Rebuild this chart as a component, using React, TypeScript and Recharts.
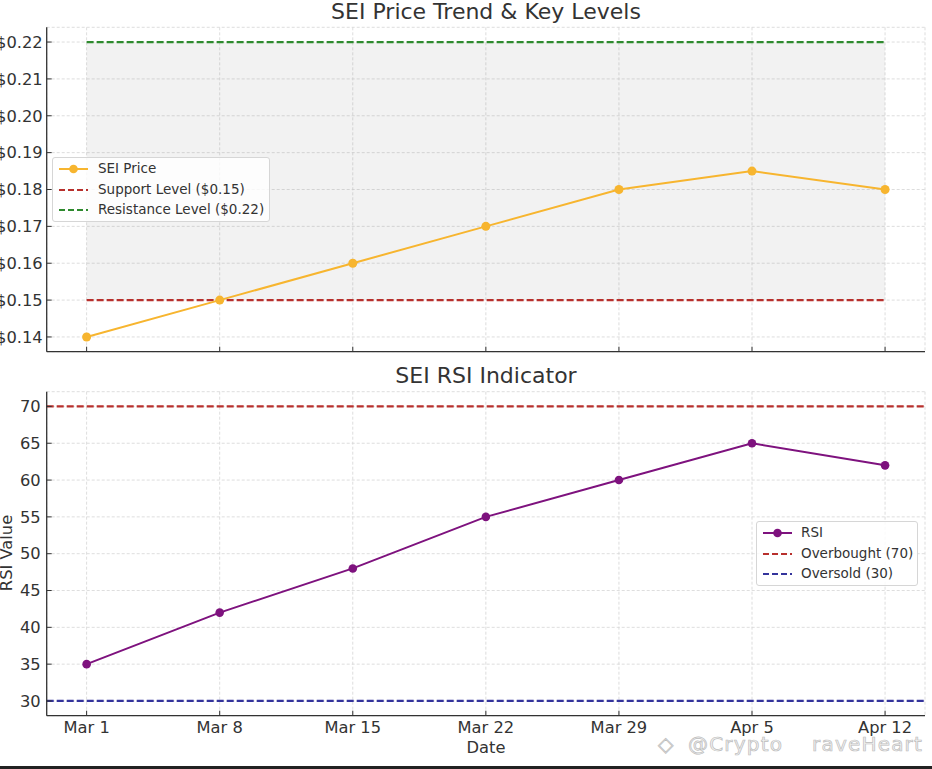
import React from 'react';
import { ComposedChart, Line, Area, XAxis, YAxis, CartesianGrid, ReferenceLine } from 'recharts';

const DATE_LABELS = ['Mar 1', 'Mar 8', 'Mar 15', 'Mar 22', 'Mar 29', 'Apr 5', 'Apr 12'];
const PRICE = [0.14, 0.15, 0.16, 0.17, 0.18, 0.185, 0.18];
const RSI = [35, 42, 48, 55, 60, 65, 62];
const SUPPORT = 0.15;
const RESISTANCE = 0.22;
const OVERBOUGHT = 70;
const OVERSOLD = 30;
const PRICE_TICKS = [0.14, 0.15, 0.16, 0.17, 0.18, 0.19, 0.2, 0.21, 0.22];
const RSI_TICKS = [30, 35, 40, 45, 50, 55, 60, 65, 70];
const X_TICKS = [0, 1, 2, 3, 4, 5, 6];

const FONT = "'DejaVu Sans', sans-serif";
const TEXT = '#333333';
const C_PRICE = '#f7b52f';
const C_SUPPORT = '#b8302d';
const C_RESIST = '#2e8a2e';
const C_RSI = '#7e127e';
const C_OVERSOLD = '#34349c';

const priceData = DATE_LABELS.map((d, i) => ({
  i,
  date: d,
  price: PRICE[i],
  support: SUPPORT,
  resistance: RESISTANCE,
  band: [SUPPORT, RESISTANCE],
}));
const rsiData = DATE_LABELS.map((d, i) => ({ i, date: d, rsi: RSI[i] }));

const tickStyle = { fill: TEXT, fontSize: 16.3, fontFamily: FONT };
const axisLineStyle = { stroke: '#333333', strokeWidth: 1.3 };
const tickLineStyle = { stroke: '#333333', strokeWidth: 1 };

type LegendItem = { label: string; color: string; marker: boolean };

function LegendBox({ items, left, top, width, height, textLeft, markLeft }: { items: LegendItem[]; left: number; top: number; width: number; height: number; textLeft: number; markLeft: number }) {
  return (
    <div
      style={{
        position: 'absolute',
        left,
        top,
        width,
        height,
        boxSizing: 'border-box',
        border: '1px solid #d6d6d6',
        borderRadius: 3,
        background: 'rgba(255,255,255,0.82)',
        fontFamily: FONT,
        fontSize: 13.5,
        color: TEXT,
        paddingTop: 0,
      }}
    >
      {items.map((it, k) => (
        <div key={k} style={{ position: 'relative', height: 20.5, lineHeight: '20.5px' }}>
          <svg width={30} height={20} style={{ position: 'absolute', left: markLeft, top: 1 }}>
            <line
              x1={0}
              x2={29}
              y1={10}
              y2={10}
              stroke={it.color}
              strokeWidth={it.marker ? 2 : 2.2}
              strokeDasharray={it.marker ? undefined : '6 3'}
            />
            {it.marker && <circle cx={14.5} cy={10} r={4.3} fill={it.color} />}
          </svg>
          <span style={{ position: 'absolute', left: textLeft, top: 0, whiteSpace: 'nowrap' }}>{it.label}</span>
        </div>
      ))}
    </div>
  );
}

const PRICE_LEGEND: LegendItem[] = [
  { label: 'SEI Price', color: C_PRICE, marker: true },
  { label: 'Support Level ($0.15)', color: C_SUPPORT, marker: false },
  { label: 'Resistance Level ($0.22)', color: C_RESIST, marker: false },
];
const RSI_LEGEND: LegendItem[] = [
  { label: 'RSI', color: C_RSI, marker: true },
  { label: 'Overbought (70)', color: C_SUPPORT, marker: false },
  { label: 'Oversold (30)', color: C_OVERSOLD, marker: false },
];

const watermarkStyle = {
  position: 'absolute' as const,
  top: 737,
  fontSize: 20,
  letterSpacing: '1.2px',
  lineHeight: '14px',
  color: '#f2f2f2',
  WebkitTextStroke: '0.7px #bcbcbc',
  whiteSpace: 'nowrap' as const,
};

export default function App() {
  return (
    <div
      style={{
        position: 'absolute',
        left: 0,
        top: 0,
        width: 932,
        height: 769,
        background: '#ffffff',
        overflow: 'hidden',
        fontFamily: FONT,
      }}
    >
      <div
        style={{
          position: 'absolute',
          left: 0,
          top: 0.5,
          width: 972,
          textAlign: 'center',
          fontSize: 22,
          lineHeight: '22px',
          color: TEXT,
        }}
      >
        SEI Price Trend &amp; Key Levels
      </div>

      <div style={{ position: 'absolute', left: 0, top: 0 }}>
        <ComposedChart width={932} height={370} data={priceData} margin={{ top: 27.3, right: 7, bottom: 8.3, left: 0 }}>
          <CartesianGrid stroke="#d4d4d4" strokeDasharray="3 2" strokeWidth={0.8} />
          <XAxis
            dataKey="i"
            type="number"
            domain={[-0.3, 6.3]}
            ticks={X_TICKS}
            allowDataOverflow
            height={10}
            tickSize={-5}
            tickMargin={10}
            tickFormatter={() => ''}
            axisLine={axisLineStyle}
            tickLine={tickLineStyle}
            tick={tickStyle}
          />
          <YAxis
            type="number"
            domain={[0.136, 0.224]}
            ticks={PRICE_TICKS}
            allowDataOverflow
            width={46.7}
            tickSize={-5}
            tickMargin={9}
            tickFormatter={(v: number) => `$${v.toFixed(2)}`}
            axisLine={axisLineStyle}
            tickLine={tickLineStyle}
            tick={tickStyle}
          />
          <Area
            dataKey="band"
            type="linear"
            fill="#808080"
            fillOpacity={0.1}
            stroke="none"
            isAnimationActive={false}
            activeDot={false}
          />
          <Line dataKey="support" type="linear" stroke={C_SUPPORT} strokeWidth={2.2} strokeDasharray="7 3" dot={false} activeDot={false} isAnimationActive={false} />
          <Line dataKey="resistance" type="linear" stroke={C_RESIST} strokeWidth={2.2} strokeDasharray="7 3" dot={false} activeDot={false} isAnimationActive={false} />
          <Line
            dataKey="price"
            type="linear"
            stroke={C_PRICE}
            strokeWidth={2}
            dot={{ r: 4.5, fill: C_PRICE, stroke: C_PRICE, strokeWidth: 0 }}
            activeDot={false}
            isAnimationActive={false}
          />
        </ComposedChart>
      </div>

      <div
        style={{
          position: 'absolute',
          left: 0,
          top: 364.7,
          width: 972,
          textAlign: 'center',
          fontSize: 22,
          lineHeight: '22px',
          color: TEXT,
        }}
      >
        SEI RSI Indicator
      </div>

      <div style={{ position: 'absolute', left: 0, top: 380 }}>
        <ComposedChart width={932} height={389} data={rsiData} margin={{ top: 11.7, right: 7, bottom: 23.3, left: 0 }}>
          <CartesianGrid stroke="#d4d4d4" strokeDasharray="3 2" strokeWidth={0.8} />
          <XAxis
            dataKey="i"
            type="number"
            domain={[-0.3, 6.3]}
            ticks={X_TICKS}
            allowDataOverflow
            height={30}
            tickSize={-5}
            tickMargin={11}
            tickFormatter={(v: number) => DATE_LABELS[v] ?? ''}
            axisLine={axisLineStyle}
            tickLine={tickLineStyle}
            tick={tickStyle}
            interval={0}
          />
          <YAxis
            type="number"
            domain={[28, 72]}
            ticks={RSI_TICKS}
            allowDataOverflow
            width={46.7}
            tickSize={-5}
            tickMargin={11}
            axisLine={axisLineStyle}
            tickLine={tickLineStyle}
            tick={tickStyle}
            interval={0}
          />
          <ReferenceLine y={OVERBOUGHT} stroke={C_SUPPORT} strokeWidth={2.2} strokeDasharray="7 3" />
          <ReferenceLine y={OVERSOLD} stroke={C_OVERSOLD} strokeWidth={2.2} strokeDasharray="7 3" />
          <Line
            dataKey="rsi"
            type="linear"
            stroke={C_RSI}
            strokeWidth={2}
            dot={{ r: 4.3, fill: C_RSI, stroke: C_RSI, strokeWidth: 0 }}
            activeDot={false}
            isAnimationActive={false}
          />
        </ComposedChart>
      </div>

      <div
        style={{
          position: 'absolute',
          left: 6.5 - 100,
          top: 553 - 8,
          width: 200,
          height: 16,
          lineHeight: '16px',
          fontSize: 16.3,
          textAlign: 'center',
          color: TEXT,
          transform: 'rotate(-90deg)',
        }}
      >
        RSI Value
      </div>

      <div
        style={{
          position: 'absolute',
          left: 386,
          top: 740,
          width: 200,
          textAlign: 'center',
          fontSize: 16.3,
          lineHeight: '16px',
          color: TEXT,
        }}
      >
        Date
      </div>

      <LegendBox items={PRICE_LEGEND} left={52} top={157} width={218} height={65} markLeft={6} textLeft={45} />
      <LegendBox items={RSI_LEGEND} left={756} top={521} width={162} height={65} markLeft={6} textLeft={44} />

      <div style={{ ...watermarkStyle, left: 658 }}>◇</div>
      <div style={{ ...watermarkStyle, left: 688 }}>@Crypto</div>
      <div style={{ ...watermarkStyle, left: 812 }}>raveHeart</div>

      <div style={{ position: 'absolute', left: 0, top: 766, width: 932, height: 3, background: '#222222' }} />
    </div>
  );
}
